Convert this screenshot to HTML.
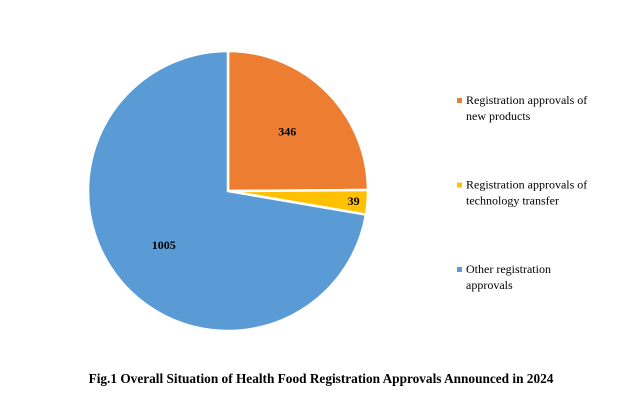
<!DOCTYPE html>
<html><head><meta charset="utf-8"><style>
body{margin:0;background:#fff;width:642px;height:404px;overflow:hidden}
svg{display:block;font-family:"Liberation Serif",serif}
</style></head><body>
<svg id="chart" width="642" height="404">
<g id="slices"></g>
<g id="labels"></g>
<g id="legend"></g>
<text x="321" y="383" text-anchor="middle" font-size="13.3" font-weight="bold">Fig.1 Overall Situation of Health Food Registration Approvals Announced in 2024</text>
</svg>
<script>
const categories=["Registration approvals of|new products","Registration approvals of|technology transfer","Other registration|approvals"];
const values=[346,39,1005];
const colors=["#ED7D31","#FFC000","#5B9BD5"];
const cx=228,cy=191,r=140;
const NS="http://www.w3.org/2000/svg";
const total=values.reduce((a,b)=>a+b,0);
let a0=0;
const gS=document.getElementById('slices'),gL=document.getElementById('labels'),gG=document.getElementById('legend');
function pt(a,rr){return [cx+rr*Math.sin(a),cy-rr*Math.cos(a)];}
values.forEach((v,i)=>{
  const a1=a0+v/total*2*Math.PI;
  const p0=pt(a0,r),p1=pt(a1,r);
  const large=(a1-a0)>Math.PI?1:0;
  const p=document.createElementNS(NS,'path');
  p.setAttribute('d',`M${cx},${cy}L${p0[0]},${p0[1]}A${r},${r} 0 ${large} 1 ${p1[0]},${p1[1]}Z`);
  p.setAttribute('fill',colors[i]);p.setAttribute('stroke','#fff');p.setAttribute('stroke-width','2.5');
  
  
  gS.appendChild(p);
  const am=(a0+a1)/2;
  const rl=(v/total<0.1)?r*0.9:r*0.6;
  const lp=pt(am,rl);
  const t=document.createElementNS(NS,'text');
  t.setAttribute('x',lp[0]);t.setAttribute('y',lp[1]+4);t.setAttribute('text-anchor','middle');
  t.setAttribute('font-size','12');t.setAttribute('font-weight','bold');
  t.textContent=v;
  
  
  gL.appendChild(t);
  const ly=104+i*84.5;
  const m=document.createElementNS(NS,'rect');
  m.setAttribute('x',457);m.setAttribute('y',ly-6);m.setAttribute('width',5);m.setAttribute('height',5);m.setAttribute('fill',colors[i]);
  
  
  gG.appendChild(m);
  categories[i].split('|').forEach((line,j)=>{
    const lt=document.createElementNS(NS,'text');
    lt.setAttribute('x',466);lt.setAttribute('y',ly+j*16);lt.setAttribute('font-size','12');
    lt.textContent=line;
    
    
    gG.appendChild(lt);
  });
  a0=a1;
});
</script>
</body></html>
